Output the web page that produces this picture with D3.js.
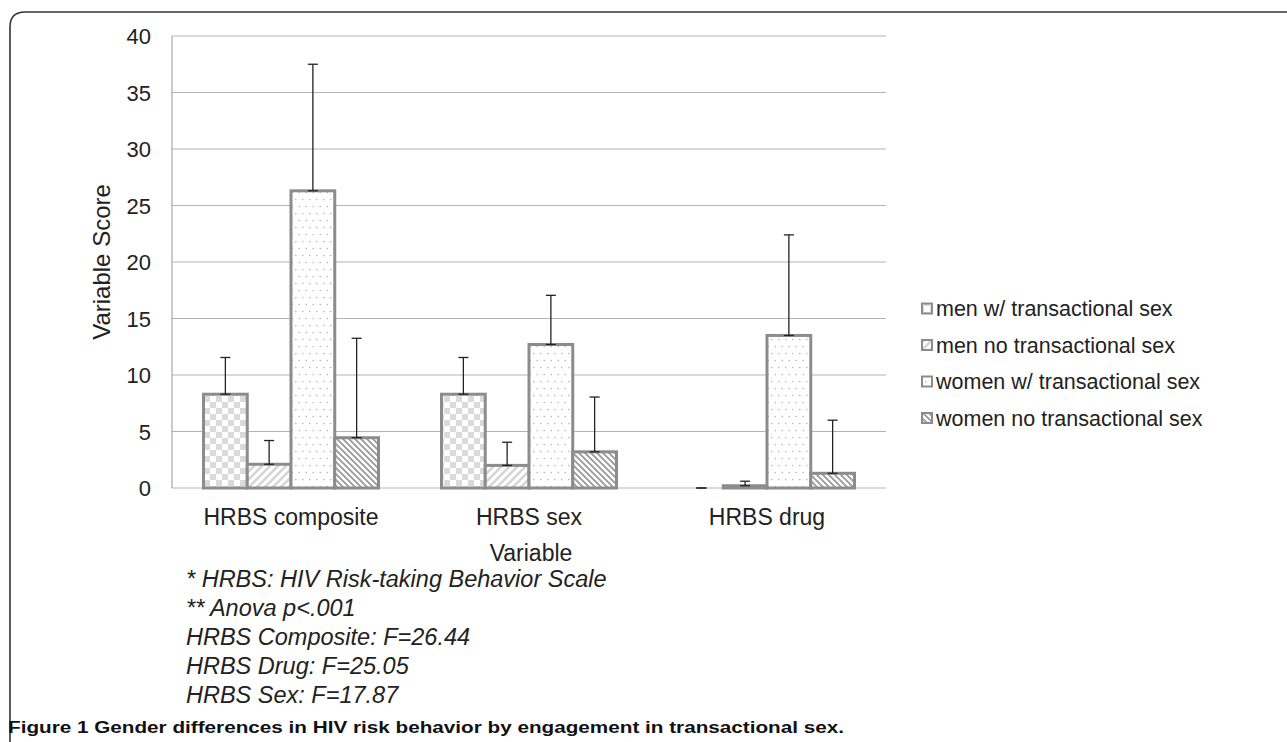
<!DOCTYPE html>
<html><head><meta charset="utf-8">
<script src="https://cdn.jsdelivr.net/npm/d3@7"></script>
<style>html,body{margin:0;padding:0;background:#fff;}svg{display:block;}</style>
</head><body>
<svg id="c" width="1287" height="742"></svg>
<script>
const categories = ["HRBS composite", "HRBS sex", "HRBS drug"];
const seriesNames = ["men w/ transactional sex", "men no transactional sex", "women w/ transactional sex", "women no transactional sex"];
const menWithMean = [8.3, 8.3, 0];
const menWithErr = [3.25, 3.25, 0];
const menNoMean = [2.1, 2.0, 0.2];
const menNoErr = [2.1, 2.05, 0.4];
const womenWithMean = [26.3, 12.7, 13.5];
const womenWithErr = [11.2, 4.35, 8.9];
const womenNoMean = [4.45, 3.2, 1.3];
const womenNoErr = [8.8, 4.85, 4.7];
const yTicks = [0, 5, 10, 15, 20, 25, 30, 35, 40];
const notes = ["* HRBS: HIV Risk-taking Behavior Scale", "** Anova p<.001", "HRBS Composite: F=26.44", "HRBS Drug: F=25.05", "HRBS Sex: F=17.87"];
const captionBold = "Figure 1";
const captionText = " Gender differences in HIV risk behavior by engagement in transactional sex.";

const means = [menWithMean, menNoMean, womenWithMean, womenNoMean];
const errs = [menWithErr, menNoErr, womenWithErr, womenNoErr];
const patternIds = ["pChecker", "pHatchF", "pDots", "pHatchB"];

const svg = d3.select("#c");
const FONT = "'Liberation Sans', Arial, Helvetica, sans-serif";
const pLeft = 172, pRight = 886, pTop = 36, pBottom = 488;

// patterns
const defs = svg.append("defs");
const pc = defs.append("pattern").attr("id", "pChecker").attr("patternUnits", "userSpaceOnUse").attr("width", 12).attr("height", 12);
pc.append("rect").attr("width", 12).attr("height", 12).attr("fill", "#fff");
pc.append("rect").attr("width", 6).attr("height", 6).attr("fill", "#dadada");
pc.append("rect").attr("x", 6).attr("y", 6).attr("width", 6).attr("height", 6).attr("fill", "#dadada");
const ph = defs.append("pattern").attr("id", "pHatchF").attr("patternUnits", "userSpaceOnUse").attr("width", 8).attr("height", 8);
ph.append("rect").attr("width", 8).attr("height", 8).attr("fill", "#fff");
ph.append("path").attr("d", "M-2,2 L2,-2 M0,8 L8,0 M6,10 L10,6").attr("stroke", "#d4d4d4").attr("stroke-width", 2.4);
const pd = defs.append("pattern").attr("id", "pDots").attr("patternUnits", "userSpaceOnUse").attr("width", 7).attr("height", 14);
pd.append("rect").attr("width", 7).attr("height", 14).attr("fill", "#fff");
pd.append("circle").attr("cx", 1.75).attr("cy", 3.5).attr("r", 0.85).attr("fill", "#bdbdbd");
pd.append("circle").attr("cx", 5.25).attr("cy", 10.5).attr("r", 0.85).attr("fill", "#bdbdbd");
const pb = defs.append("pattern").attr("id", "pHatchB").attr("patternUnits", "userSpaceOnUse").attr("width", 6).attr("height", 6);
pb.append("rect").attr("width", 6).attr("height", 6).attr("fill", "#fff");
pb.append("path").attr("d", "M-2,4 L2,8 M0,0 L6,6 M4,-2 L8,2").attr("stroke", "#9a9a9a").attr("stroke-width", 1.8);

// border
svg.append("path").attr("d", "M10,742 L10,27 Q10,12 25,12 L1287,12").attr("fill", "none").attr("stroke", "#333").attr("stroke-width", 1.6);

const y = d3.scaleLinear().domain([0, 40]).range([pBottom, pTop]);
const x0 = d3.scaleBand().domain(categories).range([pLeft, pRight]).padding(0);
const x1 = d3.scaleBand().domain(seriesNames).range([31.5, x0.bandwidth() - 31.5]).padding(0);

// gridlines
svg.append("g").selectAll("line").data(yTicks).join("line")
  .attr("x1", pLeft).attr("x2", pRight).attr("y1", d => y(d)).attr("y2", d => y(d))
  .attr("stroke", "#b3b3b3").attr("stroke-width", 1.2);
svg.append("line").attr("x1", pLeft).attr("x2", pLeft).attr("y1", pTop).attr("y2", pBottom).attr("stroke", "#a6a6a6").attr("stroke-width", 1.2);

// y axis labels
const yAxis = d3.axisLeft(y).tickValues(yTicks).tickSize(0).tickPadding(0);
const ga = svg.append("g").attr("transform", `translate(151,0)`).call(yAxis);
ga.select(".domain").remove();
ga.selectAll("text").attr("font-family", FONT).attr("font-size", 22).attr("fill", "#222").attr("dy", "0.35em").attr("x", 0);

svg.append("text").attr("transform", "translate(110,262) rotate(-90)").attr("text-anchor", "middle")
  .attr("font-family", FONT).attr("font-size", 24).attr("fill", "#222").text("Variable Score");

// bars
const data = [];
categories.forEach((c, ci) => seriesNames.forEach((s, si) => data.push({c, s, si, v: means[si][ci], e: errs[si][ci]})));
const bars = svg.append("g");
bars.selectAll("rect").data(data).join("rect")
  .attr("x", d => x0(d.c) + x1(d.s)).attr("width", x1.bandwidth())
  .attr("y", d => y(d.v)).attr("height", d => y(0) - y(d.v))
  .attr("fill", d => `url(#${patternIds[d.si]})`)
  .attr("stroke", "#8c8c8c").attr("stroke-width", 3);

// error bars
const eb = svg.append("g").attr("stroke", "#222").attr("stroke-width", 1.3);
data.forEach(d => {
  const cx = x0(d.c) + x1(d.s) + x1.bandwidth() / 2;
  eb.append("line").attr("x1", cx).attr("x2", cx).attr("y1", y(d.v)).attr("y2", y(d.v + d.e));
  eb.append("line").attr("x1", cx - 5).attr("x2", cx + 5).attr("y1", y(d.v + d.e)).attr("y2", y(d.v + d.e));
  eb.append("line").attr("x1", cx - 5).attr("x2", cx + 5).attr("y1", y(d.v)).attr("y2", y(d.v));
});

// x labels
svg.append("g").selectAll("text").data(categories).join("text")
  .attr("x", d => x0(d) + x0.bandwidth() / 2).attr("y", 525).attr("text-anchor", "middle")
  .attr("font-family", FONT).attr("font-size", 23).attr("fill", "#222").text(d => d);
svg.append("text").attr("x", (pLeft + pRight) / 2 + 2).attr("y", 561).attr("text-anchor", "middle")
  .attr("font-family", FONT).attr("font-size", 23).attr("fill", "#222").text("Variable");

// legend
const lg = svg.append("g");
seriesNames.forEach((s, i) => {
  const cy = 308.5 + i * 36.5;
  lg.append("rect").attr("x", 922).attr("y", cy - 5).attr("width", 10).attr("height", 10)
    .attr("fill", `url(#${patternIds[i]})`).attr("stroke", "#8c8c8c").attr("stroke-width", 2);
  lg.append("text").attr("x", 936).attr("y", cy + 7.5).attr("font-family", FONT).attr("font-size", 21.5).attr("fill", "#222").text(s);
});

// notes
svg.append("g").selectAll("text").data(notes).join("text")
  .attr("x", 186).attr("y", (d, i) => 587 + i * 29)
  .attr("font-family", FONT).attr("font-size", 23.5).attr("font-style", "italic").attr("fill", "#222").text(d => d);

// caption
const cap = svg.append("text").attr("x", 8).attr("y", 733).attr("font-family", FONT).attr("font-size", 16).attr("font-weight", "bold").attr("fill", "#111")
  .attr("textLength", 836).attr("lengthAdjust", "spacingAndGlyphs");
cap.append("tspan").text(captionBold);
cap.append("tspan").text(captionText);
</script>
</body></html>
